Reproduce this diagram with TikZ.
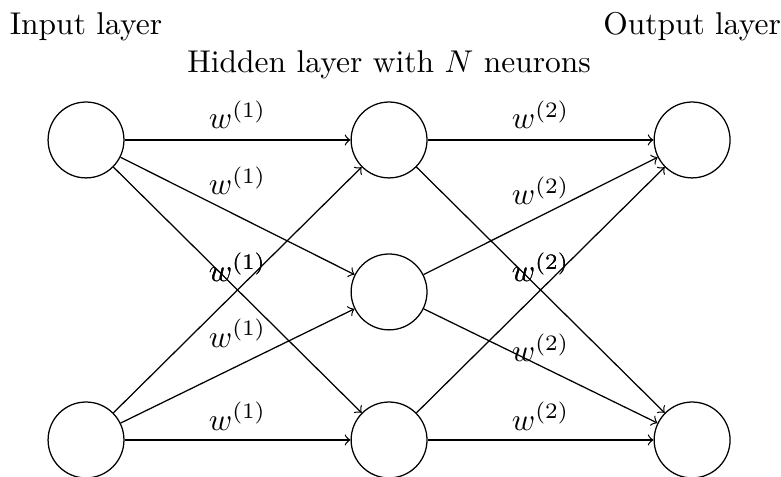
\documentclass[tikz,border=0pt]{standalone}
\begin{document}
\begin{tikzpicture}[
    neuron/.style={draw, circle, minimum size=24.1pt, inner sep=0pt},
    weight/.style={draw, ->},
    wlabel/.style={above}
]
    % Define coordinates
    \def\dx{3.382}
    \def\dy{3.348}
    \def\midY{-1.696}
    \def\titleY{1.172}

    \useasboundingbox (-0.960, 1.562) rectangle (7.756, -3.761);

    % Layer titles
    \node[anchor=base] (inputtitle) at (0, \titleY) {Input layer};
    \node[anchor=base] (hiddentitle) at (\dx, 0.751) {Hidden layer with $N$ neurons};
    \node[anchor=base] (outputtitle) at (2*\dx, \titleY) {Output layer};

    % Neurons
    \node[neuron] (in1) at (0, 0) {};
    \node[neuron] (in2) at (0, -\dy) {};
    \node[neuron] (h1) at (\dx, 0) {};
    \node[neuron] (h2) at (\dx, \midY) {};
    \node[neuron] (h3) at (\dx, -\dy) {};
    \node[neuron] (out1) at (2*\dx, 0) {};
    \node[neuron] (out2) at (2*\dx, -\dy) {};

    % Input to hidden weights
    \foreach \a/\b/\s in {in1/h1/0pt, in1/h2/3.3pt, in1/h3/-0.8pt, in2/h1/-0.8pt, in2/h2/2.4pt, in2/h3/-0.5pt} {
        \draw[weight] (\a) -- node[wlabel, yshift=\s] {$w^{(1)}$} (\b);
    }

    % Hidden to output weights
    \foreach \a/\b/\s in {h1/out1/0pt, h1/out2/-0.8pt, h2/out1/0pt, h2/out2/-2.1pt, h3/out1/-0.8pt, h3/out2/-0.5pt} {
        \draw[weight] (\a) -- node[wlabel, yshift=\s] {$w^{(2)}$} (\b);
    }

\end{tikzpicture}
\end{document}
